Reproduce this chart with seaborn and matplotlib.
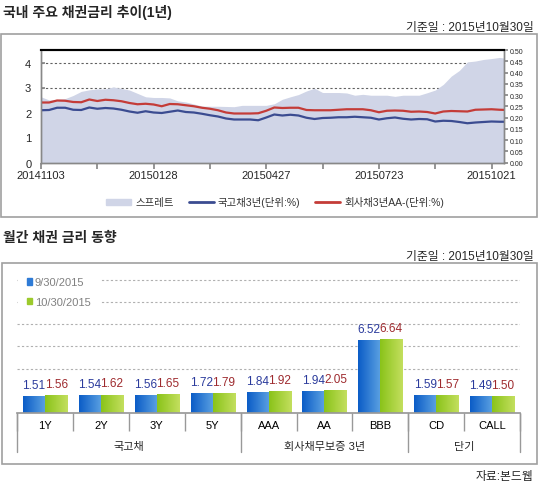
import numpy as np
import pandas as pd
import matplotlib.pyplot as plt
import matplotlib.colors as mcolors
import matplotlib.transforms as mtransforms
from matplotlib.patches import Rectangle, Patch
from matplotlib.lines import Line2D
import seaborn as sns

W, H = 538, 485

# --- top chart: daily series, one sample every ~4 trading days
tick_labels = ['20141103', '', '20150128', '', '20150427', '', '20150723', '', '20151021']
ktb3 = [2.09, 2.10, 2.19, 2.19, 2.11, 2.10, 2.20, 2.15, 2.18, 2.16,
        2.11, 2.04, 1.99, 2.05, 2.00, 1.98, 2.03, 2.08, 2.02, 2.00,
        1.95, 1.89, 1.84, 1.76, 1.72, 1.72, 1.72, 1.69, 1.80, 1.92,
        1.88, 1.91, 1.88, 1.79, 1.74, 1.78, 1.79, 1.81, 1.81, 1.83,
        1.81, 1.79, 1.72, 1.77, 1.80, 1.75, 1.72, 1.74, 1.73, 1.64,
        1.67, 1.66, 1.62, 1.57, 1.60, 1.62, 1.64, 1.63, 1.63]
corp_aa = [2.40, 2.40, 2.48, 2.47, 2.42, 2.41, 2.52, 2.46, 2.51, 2.49,
           2.45, 2.38, 2.33, 2.35, 2.32, 2.25, 2.34, 2.33, 2.29, 2.25,
           2.19, 2.15, 2.09, 2.00, 1.96, 1.96, 1.96, 1.97, 2.07, 2.20,
           2.18, 2.19, 2.19, 2.10, 2.09, 2.09, 2.09, 2.11, 2.13, 2.13,
           2.13, 2.09, 2.01, 2.07, 2.08, 2.07, 2.03, 2.04, 2.02, 1.96,
           2.04, 2.06, 2.05, 2.04, 2.11, 2.12, 2.13, 2.11, 2.10]
spread = [0.292, 0.278, 0.280, 0.284, 0.298, 0.316, 0.323, 0.327, 0.327, 0.336,
          0.329, 0.322, 0.307, 0.292, 0.289, 0.289, 0.287, 0.274, 0.269, 0.260,
          0.251, 0.250, 0.250, 0.249, 0.248, 0.254, 0.254, 0.254, 0.254, 0.261,
          0.281, 0.292, 0.302, 0.318, 0.330, 0.311, 0.311, 0.311, 0.309, 0.299,
          0.303, 0.299, 0.299, 0.299, 0.294, 0.299, 0.299, 0.299, 0.310, 0.322,
          0.347, 0.384, 0.409, 0.447, 0.451, 0.458, 0.462, 0.467, 0.462]
top_legend = ['스프레트', '국고채3년(단위:%)', '회사채3년AA-(단위:%)']

# --- bottom chart
bond_types = ['1Y', '2Y', '3Y', '5Y', 'AAA', 'AA', 'BBB', 'CD', 'CALL']
groups = ['국고채', '회사채무보증 3년', '단기']
group_sizes = [4, 3, 2]
dates = ['9/30/2015', '10/30/2015']
rate_0930 = [1.51, 1.54, 1.56, 1.72, 1.84, 1.94, 6.52, 1.59, 1.49]
rate_1030 = [1.56, 1.62, 1.65, 1.79, 1.92, 2.05, 6.64, 1.57, 1.50]

sns.set_theme(style='white')
plt.rcParams['font.family'] = ['Liberation Sans', 'Noto Sans CJK KR', 'DejaVu Sans']
plt.rcParams['axes.unicode_minus'] = False


def px_box(l, t, r, b):
    return [l / W, 1 - b / H, (r - l) / W, (b - t) / H]


fig = plt.figure(figsize=(W / 100, H / 100), dpi=100)

# titles, dates, frames
fig.text(3 / W, 1 - 12 / H, '국내 주요 채권금리 추이(1년)', fontsize=10, fontweight='bold', va='center')
fig.text(533.5 / W, 1 - 27.5 / H, '기준일 : 2015년10월30일', fontsize=8.5, ha='right', va='center')
fig.text(3 / W, 1 - 238 / H, '월간 채권 금리 동향', fontsize=10, fontweight='bold', va='center')
fig.text(533.5 / W, 1 - 256.7 / H, '기준일 : 2015년10월30일', fontsize=8.5, ha='right', va='center')
fig.text(533.5 / W, 1 - 477 / H, '자료:본드웹', fontsize=8.5, ha='right', va='center')
fig.add_artist(Rectangle((1 / W, 1 - 218 / H), 535.5 / W, 182.6 / H, transform=fig.transFigure,
                         fill=False, ec='#a0a0a0', lw=1.2))
fig.add_artist(Rectangle((1.7 / W, 1 - 465 / H), 535.3 / W, 200.7 / H, transform=fig.transFigure,
                         fill=False, ec='#a0a0a0', lw=1.2))

# ---------------- top chart
fill_col, blue_col, red_col = '#d0d5e7', '#3b4c91', '#c43c38'
ax = fig.add_axes(px_box(41, 51, 504, 163.5))
ax2 = ax.twinx()
x = np.arange(len(ktb3))
ax2.set_ylim(0, 0.5)
ax.fill_between(x, spread, color=fill_col, lw=0, transform=ax2.transData, zorder=1)
sns.lineplot(x=x, y=corp_aa, ax=ax, color=red_col, lw=1.6, zorder=3)
sns.lineplot(x=x, y=ktb3, ax=ax, color=blue_col, lw=1.6, zorder=3)
ax.set_xlim(0, 57.55)
ax.set_ylim(0, 4.5)
ax.set_yticks([0, 1, 2, 3, 4])
ax.set_xticks(np.arange(0, 57, 7))
ax.set_xticklabels(tick_labels)
ax.grid(axis='y', color='#606060', ls=(0, (2, 2)), lw=0.8)
ax.set_axisbelow(True)
ax.tick_params(axis='x', direction='out', length=4, color='#888888', labelsize=8, pad=1.5, bottom=True)
ax.tick_params(axis='y', direction='in', length=3, color='#888888', labelsize=8, pad=7, left=True)
ax2.set_yticks(np.arange(0, 0.501, 0.05))
ax2.set_yticklabels([f'{v:.2f}' for v in np.arange(0, 0.501, 0.05)])
ax2.tick_params(axis='y', direction='out', length=3, color='#888888', labelsize=5, pad=1.5, right=True)
ax2.grid(False)
for a in (ax, ax2):
    for s in ('left', 'right', 'bottom'):
        a.spines[s].set_color('#888888')
        a.spines[s].set_linewidth(1)
    a.spines['top'].set_color('black')
    a.spines['top'].set_linewidth(1.5)

handles = [Patch(color=fill_col), Line2D([], [], color=blue_col, lw=2), Line2D([], [], color=red_col, lw=2)]
ax.legend(handles, top_legend, loc='center', bbox_to_anchor=(0.506, -0.35), ncol=3, frameon=False,
          fontsize=7.5, handlelength=2.4, handleheight=0.5, columnspacing=1.4, handletextpad=0.4,
          labelcolor='#333333')

# ---------------- bottom chart
bx = fig.add_axes(px_box(17.2, 280.2, 520, 414))
df = pd.DataFrame({'type': bond_types * 2,
                   'date': [dates[0]] * len(bond_types) + [dates[1]] * len(bond_types),
                   'rate': rate_0930 + rate_1030})
sns.barplot(data=df, x='type', y='rate', hue='date', palette=['#3a86d8', '#a8d03a'], saturation=1,
            width=0.79, gap=0, legend=False, ax=bx, zorder=2)

grads = [mcolors.LinearSegmentedColormap.from_list('bl', ['#0b5cc7', '#5ca2e2']),
         mcolors.LinearSegmentedColormap.from_list('gr', ['#8ac31a', '#c3df5e'])]
label_cols = ['#2b3b9c', '#9e2a2e']
ramp = np.linspace(0, 1, 64).reshape(1, -1)
for cont, cmap, lc in zip(bx.containers, grads, label_cols):
    for bar in cont:
        x0, y0, w, h = bar.get_x(), bar.get_y(), bar.get_width(), bar.get_height()
        bx.imshow(ramp, cmap=cmap, extent=[x0, x0 + w, y0, y0 + h], aspect='auto',
                  interpolation='bilinear', zorder=2)
        bar.set_facecolor('none')
        bar.set_edgecolor('none')
    bx.bar_label(cont, fmt='%.2f', padding=4, color=lc, fontsize=8.5)

bx.set_xlim(-0.5, len(bond_types) - 0.5)
bx.set_ylim(0, 12.05)
bx.set_yticks([4, 6, 8, 10, 12])
bx.grid(axis='y', color='#b0b0b0', ls=(0, (2, 2)), lw=0.8)
bx.set_axisbelow(True)
bx.tick_params(axis='y', length=0, labelleft=False)
bx.set_xlabel('')
bx.set_ylabel('')
for s in ('left', 'top', 'right'):
    bx.spines[s].set_visible(False)
bx.spines['bottom'].set_color('#999999')
bx.set_xticks(np.arange(-0.5, len(bond_types)), minor=True)
bx.tick_params(axis='x', which='major', length=0, pad=5, labelsize=8, labelcolor='black')
bx.tick_params(axis='x', which='minor', direction='out', length=13, width=1, color='#999999', bottom=True)

trans = mtransforms.blended_transform_factory(bx.transData, bx.transAxes)
bounds = np.concatenate([[0], np.cumsum(group_sizes)]) - 0.5
for b in bounds:
    bx.plot([b, b], [0, -0.29], transform=trans, color='#999999', lw=1, clip_on=False)
for g, lo, hi in zip(groups, bounds[:-1], bounds[1:]):
    bx.text((lo + hi) / 2, -0.243, g, transform=trans, ha='center', va='center', fontsize=8)

bar_handles = [Patch(color='#2f7bd6'), Patch(color='#9cca2c')]
bx.legend(bar_handles, dates, loc='upper left', bbox_to_anchor=(0.001, 1.08), borderaxespad=0,
          fontsize=8, handlelength=0.5, handleheight=0.5, handletextpad=0.25, labelspacing=0.85,
          borderpad=0.8, frameon=True, facecolor='white', edgecolor='none', framealpha=1,
          labelcolor='#808080')

fig.savefig('out.png', dpi=100)
